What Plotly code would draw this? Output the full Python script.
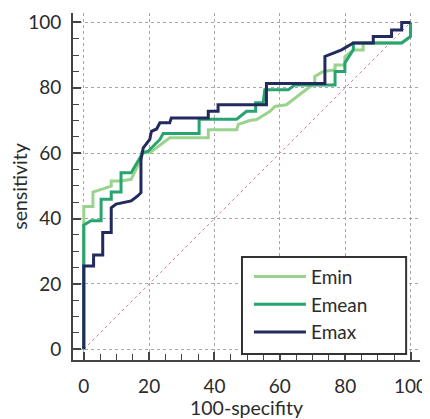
import plotly.graph_objects as go

# ROC curve data (100-specificity, sensitivity)
emin_x = [0, 0, 2.8, 2.8, 8.4, 8.4, 11.4, 14.5, 17.5, 17.7, 20.2, 26.3, 38.1, 38.1, 46.8, 47.3, 50.8,
          52.9, 57, 58.5, 62, 70.7, 70.7, 73.3, 76.9, 76.9, 79.9, 79.9, 82.5, 85.5, 85.5, 97.3, 100, 100]
emin_y = [0, 43.7, 43.7, 48.1, 49.9, 51.5, 51.5, 52, 58.1, 60.1, 60.1, 64.7, 64.7, 67.2, 67.2, 68.8, 70,
          70.3, 72.8, 74.3, 74.8, 81.5, 83.5, 85, 85.5, 87, 87, 89.5, 91.6, 91.6, 93.7, 93.7, 95.7, 100]

emean_x = [0, 0, 2.2, 5.3, 5.3, 8.4, 8.4, 11.4, 11.4, 14.5, 18.1, 19.7, 23.3, 24.3, 35.3, 35.3, 46.8,
           49.8, 52.6, 52.6, 54.9, 55.4, 62.6, 64.6, 76.9, 76.9, 79.9, 79.9, 82.5, 82.5, 97.3, 100, 100]
emean_y = [0, 38, 39.3, 39.3, 45.9, 45.9, 48.1, 48.1, 54, 54, 60.1, 60.6, 64.2, 66, 66, 70.4, 70.4,
           72.8, 72.8, 75.4, 75.4, 79.4, 79.4, 80.9, 80.9, 85, 85, 87.6, 91.6, 93.7, 93.7, 95.7, 100]

emax_x = [0, 0, 3, 3, 5.8, 5.8, 8.4, 8.4, 9.9, 14.5, 16.5, 17.5, 17.5, 18.2, 20.2, 20.7, 22.3, 23.3,
          26.3, 26.8, 38.1, 38.1, 41.1, 41.1, 55.9, 55.9, 73.8, 73.8, 76.4, 78.9, 82.5, 88.6, 88.6,
          94.2, 94.2, 97.3, 97.3, 100]
emax_y = [0, 25.5, 25.5, 28.8, 28.8, 35.7, 35.7, 43.3, 44.4, 45.4, 46.9, 47.9, 58.1, 61.6, 64.2, 66.7,
          67.4, 69.3, 69.3, 70.8, 70.8, 72.8, 72.8, 74.8, 74.8, 81.3, 81.3, 89.6, 90.6, 91.6, 93.7, 93.7,
          95.7, 95.7, 97.7, 97.7, 100, 100]

diag = [0, 100]
tick_vals = [0, 20, 40, 60, 80, 100]
tick_text = ["0", "20", "40", "60", "80", "100"]

FONT = "Lato"
TXT = "#2b2b2b"
AX = "#444444"

fig = go.Figure()
fig.add_trace(go.Scatter(x=diag, y=diag, mode="lines", showlegend=False,
                         line=dict(color="#d98585", width=1, dash="dot"), hoverinfo="skip"))
fig.add_trace(go.Scatter(x=emin_x, y=emin_y, mode="lines", name="Emin",
                         line=dict(color="#9ad38e", width=3)))
fig.add_trace(go.Scatter(x=emean_x, y=emean_y, mode="lines", name="Emean",
                         line=dict(color="#27a46f", width=3)))
fig.add_trace(go.Scatter(x=emax_x, y=emax_y, mode="lines", name="Emax",
                         line=dict(color="#232a5e", width=3)))

axis_common = dict(
    tickvals=tick_vals, ticktext=tick_text,
    ticks="inside", ticklen=8, tickwidth=1.5, tickcolor=AX,
    showline=True, linecolor=AX, linewidth=2,
    showgrid=True, gridcolor="#a8a8a8", griddash="dot", gridwidth=1,
    zeroline=False, automargin=False,
    tickfont=dict(family=FONT, size=19, color=TXT),
    minor=dict(dtick=5, tick0=0, ticks="inside", ticklen=6, tickwidth=1.2, tickcolor=AX, showgrid=False),
    range=[-3.3, 102.9],
    mirror=False,
)

# page body has an 8px margin, so the figure is sized to fit the 430x419 window
fig.update_layout(
    width=422, height=411,
    margin=dict(l=65, r=10, t=5, b=59),
    paper_bgcolor="white", plot_bgcolor="white",
    xaxis=dict(**axis_common,
               title=dict(text="100-specifity", font=dict(family=FONT, size=19.5, color=TXT), standoff=6),
               ticklabelstandoff=8),
    yaxis=dict(**axis_common,
               title=dict(text="sensitivity", font=dict(family=FONT, size=19.5, color=TXT), standoff=2),
               ticklabelstandoff=6),
    legend=dict(x=0.507, y=0.024, xanchor="left", yanchor="bottom",
                bgcolor="rgba(0,0,0,0)", borderwidth=0,
                font=dict(family=FONT, size=19, color=TXT),
                itemwidth=52, tracegroupgap=0),
    showlegend=True,
    shapes=[dict(type="rect", xref="paper", yref="paper", x0=0.487, x1=0.96, y0=0.0173, y1=0.297,
                 line=dict(color="#333333", width=2), fillcolor="white", layer="above")],
)

fig.write_html("out.html")
